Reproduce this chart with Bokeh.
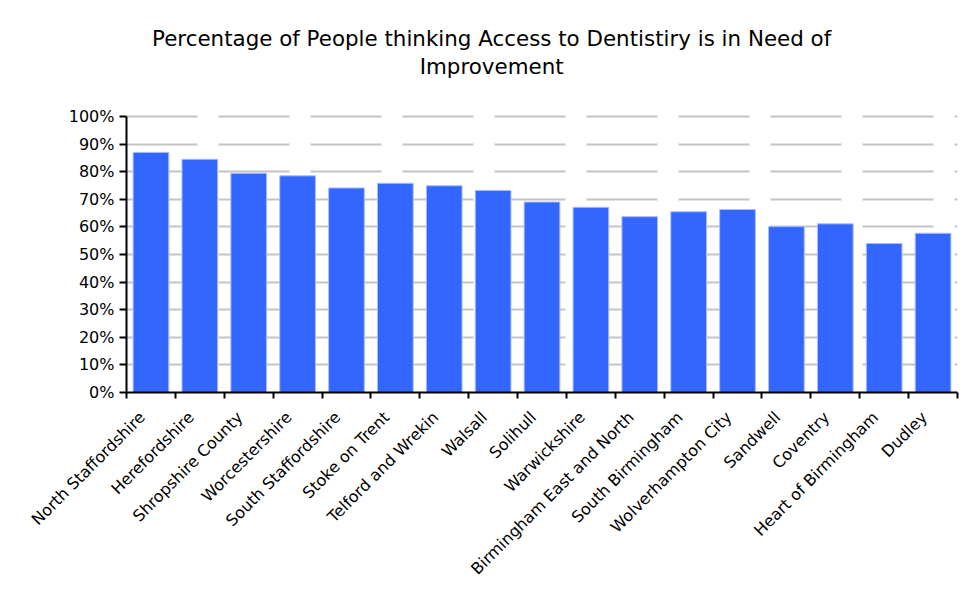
from math import pi

from bokeh.plotting import figure
from bokeh.models import (Range1d, FixedTicker, NumeralTickFormatter, Label,
                          ColumnDataSource)
from bokeh.embed import file_html
from bokeh.resources import INLINE

# Survey results by area
areas = [
    "North Staffordshire", "Herefordshire", "Shropshire County", "Worcestershire",
    "South Staffordshire", "Stoke on Trent", "Telford and Wrekin", "Walsall",
    "Solihull", "Warwickshire", "Birmingham East and North", "South Birmingham",
    "Wolverhampton City", "Sandwell", "Coventry", "Heart of Birmingham", "Dudley",
]
pct_needing_improvement = [
    0.870, 0.845, 0.794, 0.785, 0.741, 0.758, 0.749, 0.732,
    0.690, 0.671, 0.637, 0.655, 0.663, 0.601, 0.611, 0.540, 0.577,
]
y_ticks = [i / 10 for i in range(11)]
title_lines = ["Percentage of People thinking Access to Dentistiry is in Need of",
               "Improvement"]

FONT = "DejaVu Sans"

n = len(areas)
centers = [i + 0.5 for i in range(n)]
src = ColumnDataSource(dict(x=centers, top=pct_needing_improvement, area=areas))

# the frame reaches the top of the page; the space above 100% holds the title
Y_TOP = 392 / 276
p = figure(width=965, height=592, output_backend="svg", toolbar_location=None,
           x_range=Range1d(0, n), y_range=Range1d(0, Y_TOP),
           min_border_left=126, min_border_right=8,
           min_border_top=0, min_border_bottom=200)
p.outline_line_color = None
p.background_fill_color = "white"
p.border_fill_color = "white"

p.vbar(x="x", top="top", width=0.73, bottom=0, source=src,
       fill_color="#3366FF", line_color="#a8bcff", line_width=1)

# x axis: slanted labels ending just left of each bar centre,
# tick marks on the category boundaries
label_pos = [c - 0.18 for c in centers]
xa = p.xaxis[0]
xa.ticker = FixedTicker(ticks=label_pos, minor_ticks=list(range(n + 1)))
xa.major_label_overrides = {c: a for c, a in zip(label_pos, areas)}
xa.major_label_orientation = pi / 4
xa.major_tick_out = 0
xa.major_tick_in = 0
xa.minor_tick_out = 6
xa.minor_tick_in = 0
xa.minor_tick_line_color = "black"
xa.minor_tick_line_width = 2
xa.axis_line_color = "black"
xa.axis_line_width = 2
xa.major_label_text_font = FONT
xa.major_label_text_font_size = "16px"
xa.major_label_text_color = "black"
xa.major_label_standoff = 16

ya = p.yaxis[0]
ya.ticker = FixedTicker(ticks=y_ticks)
ya.formatter = NumeralTickFormatter(format="0%")
ya.bounds = (0, 1)
ya.minor_tick_line_color = None
ya.major_tick_out = 7
ya.major_tick_in = 0
ya.major_tick_line_width = 2
ya.axis_line_color = "black"
ya.axis_line_width = 2
ya.major_label_text_font = FONT
ya.major_label_text_font_size = "16px"
ya.major_label_text_color = "black"
ya.major_label_standoff = 5

p.xgrid.grid_line_color = None
p.ygrid.grid_line_color = "#c4c4c4"
p.ygrid.grid_line_width = 2
p.ygrid.grid_line_dash = "71 21"

# two-line title
for yv, txt in zip([1.2826, 1.1812], title_lines):
    p.add_layout(Label(x=7.47, y=yv, text=txt, text_align="center",
                       text_baseline="middle", text_font=FONT,
                       text_font_size="21.4px", text_color="black"))

open("out.html", "w").write(file_html(p, INLINE))
